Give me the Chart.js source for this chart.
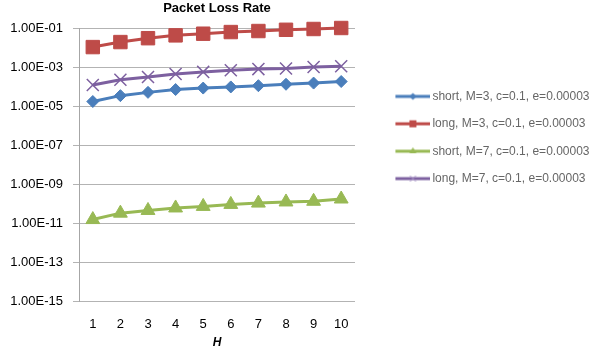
<!DOCTYPE html>
<html><head><meta charset="utf-8">
<script src="https://cdn.jsdelivr.net/npm/chart.js@4/dist/chart.umd.min.js"></script>
<style>html,body{margin:0;padding:0;background:#fff}#wrap{width:600px;height:351px;position:relative}</style>
</head><body><div id="wrap"><canvas id="c"></canvas></div>
<script>
const hValues = ['1','2','3','4','5','6','7','8','9','10'];
const shortM3 = [1.7e-5, 3.4e-5, 5.0e-5, 7.0e-5, 8.3e-5, 9.5e-5, 1.1e-4, 1.3e-4, 1.5e-4, 1.8e-4];
const longM3 = [1.05e-2, 1.9e-2, 3.0e-2, 4.2e-2, 5.1e-2, 6.2e-2, 7.0e-2, 8.1e-2, 8.9e-2, 1.0e-1];
const shortM7 = [1.5e-11, 3.2e-11, 4.4e-11, 5.9e-11, 7.1e-11, 9.0e-11, 1.05e-10, 1.2e-10, 1.3e-10, 1.7e-10];
const longM7 = [1.2e-4, 2.2e-4, 3.1e-4, 4.4e-4, 5.6e-4, 6.8e-4, 7.8e-4, 8.3e-4, 1.0e-3, 1.1e-3];
const seriesNames = ['short, M=3, c=0.1, e=0.00003','long, M=3, c=0.1, e=0.00003','short, M=7, c=0.1, e=0.00003','long, M=7, c=0.1, e=0.00003'];
const yTickValues = [1e-15,1e-13,1e-11,1e-9,1e-7,1e-5,1e-3,1e-1];

const FONT = 'Liberation Sans';
const colors = ['#4A7EBB','#BE4B48','#98B954','#7D60A0'];
const styles = ['rectRot','rect','triangle','crossRot'];
const radii = [6,9.5,8,8.5];

const LW = 56, IW = LW + 8, IH = 16;
const LEG_PAD = 15.4, LEG_FONT = 12;
function legendImage(color, style){
  const c = document.createElement('canvas');
  c.width = IW; c.height = IH;
  const g = c.getContext('2d');
  const y = IH/2;
  g.strokeStyle = color; g.lineWidth = 3;
  g.beginPath(); g.moveTo(IW-35, y); g.lineTo(IW, y); g.stroke();
  const cx = IW - 17.5;
  g.fillStyle = color;
  g.lineWidth = 1;
  if (style === 'rectRot'){
    g.beginPath(); g.moveTo(cx-3.5,y); g.lineTo(cx,y-3.5); g.lineTo(cx+3.5,y); g.lineTo(cx,y+3.5); g.closePath(); g.fill();
  } else if (style === 'rect'){
    g.fillRect(cx-3.5,y-3.5,7,7);
  } else if (style === 'triangle'){
    g.beginPath(); g.moveTo(cx,y-4); g.lineTo(cx+3.5,y+2); g.lineTo(cx-3.5,y+2); g.closePath(); g.fill();
  } else {
    g.strokeStyle = '#a38fc4';
    g.beginPath(); g.moveTo(cx-3,y-3); g.lineTo(cx+3,y+3); g.moveTo(cx+3,y-3); g.lineTo(cx-3,y+3); g.stroke();
  }
  return c;
}

// measure legend text to place the plot's right edge
const mctx = document.createElement('canvas').getContext('2d');
mctx.font = LEG_FONT + 'px "' + FONT + '"';
const maxTextW = Math.max(...seriesNames.map(s => mctx.measureText(s).width));
const legendW = LEG_PAD + LW + LEG_FONT/2 + maxTextW + 10;
const rightPad = Math.max(0, 600 - 355 - legendW);

const seriesData = [shortM3, longM3, shortM7, longM7];
const datasets = seriesData.map((d,i)=>({
  label: seriesNames[i],
  data: d,
  borderColor: colors[i],
  backgroundColor: colors[i],
  borderWidth: 3,
  pointStyle: styles[i],
  pointRadius: radii[i],
  pointHoverRadius: radii[i],
  pointBackgroundColor: colors[i],
  pointBorderColor: colors[i],
  pointBorderWidth: styles[i]==='crossRot' ? 1.5 : 1,
  tension: 0,
  clip: false
}));

function fmt(v){
  const e = Math.round(Math.log10(v));
  const m = v / Math.pow(10, e);
  const sign = e < 0 ? '-' : '+';
  const ae = Math.abs(e);
  return m.toFixed(2) + 'E' + sign + (ae < 10 ? '0' + ae : '' + ae);
}

new Chart(document.getElementById('c'), {
  type: 'line',
  data: { labels: hValues, datasets },
  options: {
    responsive: true, maintainAspectRatio: false, animation: false, devicePixelRatio: 1,
    layout: { padding: { left: 0, right: rightPad, top: 0, bottom: 0 } },
    plugins: {
      tooltip: { enabled: false },
      title: {
        display: true, text: 'Packet Loss Rate', fullSize: false, color: '#000',
        font: { family: FONT, size: 13, weight: 'bold' },
        padding: { top: 0.5, bottom: 11.9 }
      },
      legend: {
        position: 'right', align: 'start', maxWidth: 300,
        title: { display: true, text: '', font: { family: FONT, size: 12 }, padding: { top: 0, bottom: 60.6 } },
        labels: {
          usePointStyle: true, pointStyleWidth: LW, padding: LEG_PAD, color: '#000',
          font: { family: FONT, size: LEG_FONT },
          generateLabels: (chart) => chart.data.datasets.map((ds,i)=>({
            text: ds.label, pointStyle: legendImage(colors[i], styles[i]),
            fillStyle: colors[i], strokeStyle: colors[i], lineWidth: 0, datasetIndex: i, hidden: false
          }))
        }
      }
    },
    scales: {
      x: {
        offset: true,
        afterFit: (s) => { s.height = 50; },
        grid: { display: false, drawTicks: false }, border: { display: false },
        ticks: { color: '#000', font: { family: FONT, size: 13 }, padding: 15.4, maxRotation: 0 },
        title: { display: true, text: 'H', color: '#000', font: { family: FONT, size: 12, weight: 'bold', style: 'italic' }, padding: { top: 4.2, bottom: 0.8 } }
      },
      y: {
        type: 'logarithmic', min: 1e-15, max: 1e-1,
        afterBuildTicks: (s) => { s.ticks = yTickValues.map(v => ({ value: v })); },
        afterFit: (s) => { s.width = 79; },
        grid: { color: '#b3b3b3', lineWidth: 1, tickLength: 6 },
        border: { color: '#a6a6a6', width: 1 },
        ticks: { color: '#000', font: { family: FONT, size: 13 }, padding: 10, callback: (v) => fmt(v) }
      }
    }
  }
});
</script></body></html>
